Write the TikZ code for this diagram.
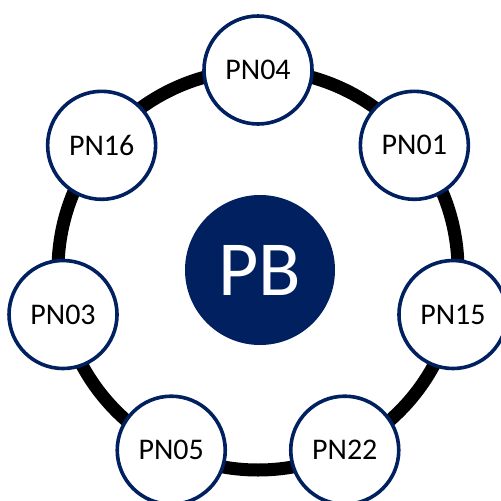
\documentclass[tikz,border=0pt]{standalone}
\usepackage{fontspec}
\setmainfont{Carlito}
\usetikzlibrary{calc}
\definecolor{navy}{HTML}{002060}
\begin{document}
\begin{tikzpicture}[x=1pt,y=1pt,
  member/.style={circle, draw=navy, line width=3.6pt, fill=white,
    minimum size=108pt, inner sep=0pt, font=\fontsize{30}{36}\selectfont},
  hub/.style={circle, fill=navy, minimum size=150pt, inner sep=0pt,
    text=white, font=\fontsize{78}{90}\selectfont},
  ringline/.style={line width=13pt, black}]
\useasboundingbox (0,0) rectangle (501,-501);
\coordinate (ctr) at (258,-270);
% ring through all member nodes
\draw[ringline] (ctr) circle[radius=200];
% hub
\node[hub] (pb) at (260,-270) {PB};
% members on a regular heptagon
\node[member] (pn04) at ($(ctr)+(90:200)$) {PN04};
\node[member] (pn01) at ($(ctr)+(38.57:200)$) {PN01};
\node[member] (pn15) at ($(ctr)+(-12.86:200)$) {PN15};
\node[member] (pn22) at ($(ctr)+(-64.29:200)$) {PN22};
\node[member] (pn05) at ($(ctr)+(-115.71:200)$) {PN05};
\node[member] (pn03) at ($(ctr)+(-167.14:200)$) {PN03};
\node[member] (pn16) at ($(ctr)+(141.43:200)$) {PN16};
\end{tikzpicture}
\end{document}
